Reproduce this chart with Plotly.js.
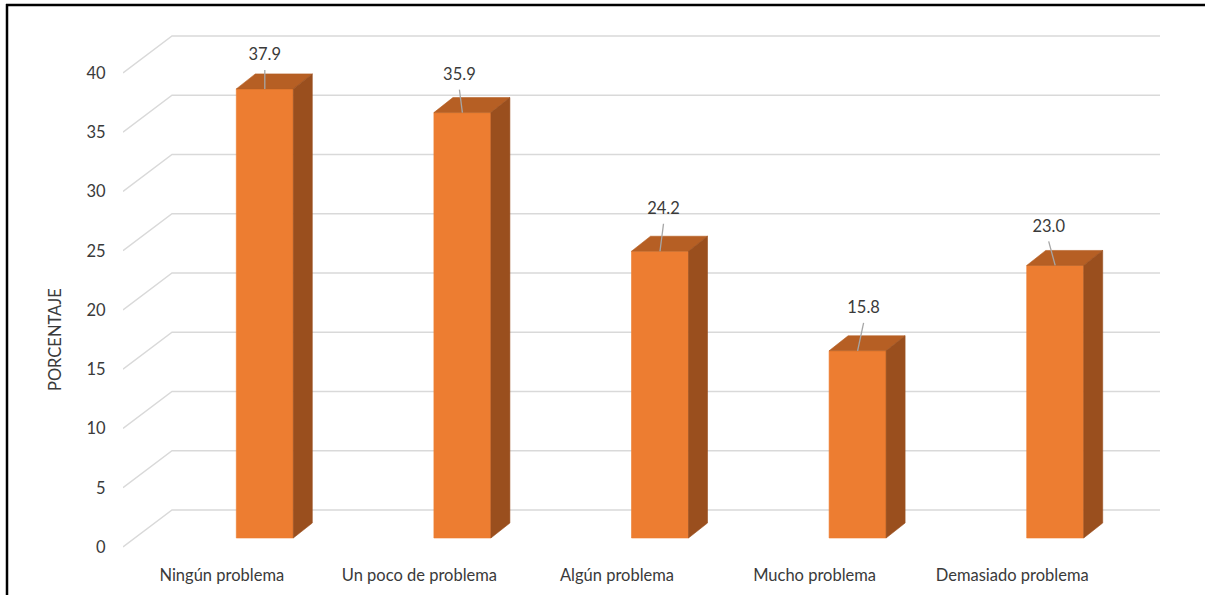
<!DOCTYPE html>
<html>
<head>
<meta charset="utf-8">
<script src="https://cdn.plot.ly/plotly-3.0.1.min.js"></script>
<style>
  html, body { margin: 0; padding: 0; background: #ffffff; }
  #chart { width: 1205px; height: 595px; }
</style>
</head>
<body>
<div id="chart"></div>
<script>
// Survey answers and their percentages
const categories = ['Ningún problema', 'Un poco de problema', 'Algún problema', 'Mucho problema', 'Demasiado problema'];
const values = [37.9, 35.9, 24.2, 15.8, 23.0];
const tickValues = [0, 5, 10, 15, 20, 25, 30, 35, 40];
const axisTitle = 'PORCENTAJE';

// ---- page geometry (pixels) ----
const W = 1205, H = 595;
const plotL = 123, plotR = 1170, plotT = 15, plotB = 556;
const zeroPx = 547;          // pixel row of 0 on the front plane
const PX_X = 197.6;          // pixels per category slot
const PX_Y = 11.85;          // pixels per percentage point
const px = p => p / PX_X;
const py = p => p / PX_Y;

// oblique depth of the back wall and of each column
const wall = { dx: px(49), dy: py(37) };
const col = { off: px(43), base: py(9), half: px(28.5), dx: px(19), dy: py(15) };

// fine placement of the value labels (pixels relative to the column top)
const labelDx = [0, -3, 3.5, 6, -6.5];
const labelDy = [33, 37, 41.5, 42, 38];

const FONT = 'Lato, "Liberation Sans", sans-serif';
const FS = 16.5;
const TEXT = '#3a3a3a';
const ORANGE = '#ED7D31', TOPC = '#B65F24', SIDEC = '#9A4F1E';

const xMin = -0.5, xMax = xMin + (plotR - plotL) / PX_X;
const yMin = (zeroPx - plotB) / PX_Y, yMax = (zeroPx - plotT) / PX_Y;

// gridlines: front-left diagonal + back wall line
const gx = [], gy = [];
tickValues.forEach(t => {
  gx.push(-0.5, -0.5 + wall.dx, categories.length - 0.5 + wall.dx, null);
  gy.push(t, t + wall.dy, t + wall.dy, null);
});

// column faces
const fx = [], fy = [], tx = [], ty = [], sx = [], sy = [];
const lx = [], ly = [], labX = [], labY = [], labT = [];
values.forEach((v, i) => {
  const cx = i + col.off;
  const x0 = cx - col.half, x1 = cx + col.half;
  const y0 = col.base, y1 = col.base + v;
  fx.push(x0, x1, x1, x0, x0, null); fy.push(y0, y0, y1, y1, y0, null);
  tx.push(x0, x1, x1 + col.dx, x0 + col.dx, x0, null);
  ty.push(y1, y1, y1 + col.dy, y1 + col.dy, y1, null);
  sx.push(x1, x1 + col.dx, x1 + col.dx, x1, x1, null);
  sy.push(y0, y0 + col.dy, y1 + col.dy, y1, y0, null);
  const lxTop = cx + px(labelDx[i]);
  lx.push(cx, lxTop, null);
  ly.push(y1, y1 + py(labelDy[i] - 14), null);
  labX.push(lxTop); labY.push(y1 + py(labelDy[i])); labT.push(v.toFixed(1));
});

const poly = (x, y, c) => ({
  type: 'scatter', mode: 'lines', x, y, fill: 'toself', fillcolor: c,
  line: { color: c, width: 0.6 }, hoverinfo: 'skip', showlegend: false
});

const traces = [
  { type: 'scatter', mode: 'lines', x: gx, y: gy, line: { color: '#D9D9D9', width: 1.4 },
    hoverinfo: 'skip', showlegend: false },
  poly(fx, fy, ORANGE),
  poly(tx, ty, TOPC),
  poly(sx, sy, SIDEC),
  { type: 'scatter', mode: 'lines', x: lx, y: ly, line: { color: '#A6A6A6', width: 1.3 },
    hoverinfo: 'skip', showlegend: false },
  { type: 'scatter', mode: 'text', x: labX, y: labY, text: labT, textposition: 'middle center',
    textfont: { family: FONT, size: FS, color: TEXT }, hoverinfo: 'skip', showlegend: false }
];

const paperX = p => (p - plotL) / (plotR - plotL);
const paperY = p => (plotB - p) / (plotB - plotT);

const layout = {
  width: W, height: H,
  margin: { l: plotL, r: W - plotR, t: plotT, b: H - plotB, pad: 0 },
  paper_bgcolor: '#ffffff', plot_bgcolor: '#ffffff',
  font: { family: FONT, size: FS, color: TEXT },
  xaxis: {
    range: [xMin, xMax], tickvals: categories.map((c, i) => i), ticktext: categories,
    showgrid: false, zeroline: false, showline: false, ticks: 'outside', ticklen: 4,
    tickcolor: 'rgba(0,0,0,0)', tickfont: { family: FONT, size: FS, color: TEXT },
    fixedrange: true, automargin: false
  },
  yaxis: {
    range: [yMin, yMax], tickvals: tickValues, ticktext: tickValues.map(String),
    showgrid: false, zeroline: false, showline: false, ticks: 'outside', ticklen: 13,
    tickcolor: 'rgba(0,0,0,0)', tickfont: { family: FONT, size: FS, color: TEXT },
    fixedrange: true, automargin: false
  },
  annotations: [
    { text: axisTitle, xref: 'paper', yref: 'paper', x: paperX(55), y: paperY(340),
      xanchor: 'center', yanchor: 'middle', textangle: -90, showarrow: false,
      font: { family: FONT, size: FS, color: TEXT } }
  ],
  shapes: [
    { type: 'line', xref: 'paper', yref: 'paper', x0: paperX(7), x1: paperX(7), y0: paperY(4), y1: paperY(600),
      line: { color: '#000000', width: 2.5 } },
    { type: 'line', xref: 'paper', yref: 'paper', x0: paperX(6), x1: paperX(1210), y0: paperY(5), y1: paperY(5),
      line: { color: '#000000', width: 2.5 } }
  ],
  showlegend: false
};

Plotly.newPlot('chart', traces, layout, { staticPlot: true, displayModeBar: false });
</script>
</body>
</html>
